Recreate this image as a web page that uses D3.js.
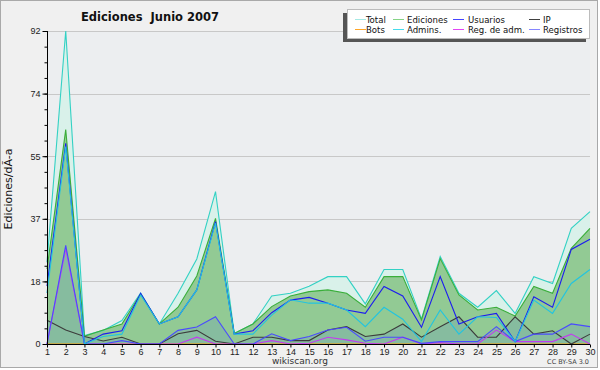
<!DOCTYPE html>
<html>
<head>
<meta charset="utf-8">
<script src="https://cdn.jsdelivr.net/npm/d3@7"></script>
<style>
  body { margin: 0; background: #ffffff; }
  svg { display: block; font-family: "DejaVu Sans", sans-serif; }
  .cond { font-family: "DejaVu Sans Condensed", "DejaVu Sans", sans-serif; font-stretch: condensed; }
</style>
</head>
<body>
<svg id="chart" width="600" height="370"></svg>
<script>
const days = [1, 2, 3, 4, 5, 6, 7, 8, 9, 10, 11, 12, 13, 14, 15, 16, 17, 18, 19, 20, 21, 22, 23, 24, 25, 26, 27, 28, 29, 30];

const total     = [24, 92, 2.5, 4, 6.9, 15, 5.9, 14.9, 25, 44.8, 3.1, 5.9, 14.1, 14.9, 17, 19.8, 19.8, 11.8, 21.9, 21.9, 7.4, 25.7, 14.9, 10.8, 15.7, 9, 19.8, 17.8, 34, 38.9];
const ediciones = [22, 63, 2.3, 4.1, 5.9, 14.7, 5.9, 10.8, 20, 36.9, 3.1, 5.9, 11, 14.1, 15.4, 15.9, 14.9, 10.8, 19.8, 19.8, 7.1, 25.1, 14.4, 10, 10.8, 8.2, 16.9, 14.9, 28.1, 34];
const usuarios  = [17, 59, 0, 2.9, 3.9, 14.9, 5.9, 8, 15.9, 36, 2.9, 3.9, 9.2, 12.9, 13.7, 12, 10, 9, 16.9, 14.1, 4.9, 19.8, 5.9, 8, 9, 0.7, 13.9, 10.8, 27.8, 30.8];
const ip        = [7, 4.1, 2.2, 0.9, 2, 0, 0, 3, 4, 0.8, 0, 2, 2, 1, 1, 4.1, 5.1, 2.2, 2.9, 5.9, 2, 5.1, 8, 2, 2, 8, 2.9, 3.9, 0, 2.9];
const bots      = [0, 0, 0, 0, 0, 0, 0, 0, 0, 0, 0, 0, 0, 0, 0, 0, 0, 0, 0, 0, 0, 0, 0, 0, 0, 0, 0, 0, 0, 0];
const admins    = [15, 58, 0, 2.2, 2.9, 14.4, 5.9, 8, 15.9, 35.5, 2.9, 2.9, 8.5, 13, 12, 12, 10, 5.1, 10.8, 7.3, 0.7, 10, 2.9, 8, 7.8, 0.7, 12.9, 9, 17.8, 21.9];
const regAdm    = [0, 28, 0, 0, 0, 0, 0, 0, 2, 0, 0, 0, 1, 0, 0.2, 2, 1.2, 0.2, 0, 2, 0, 0.4, 0, 0, 4.1, 0.7, 0.7, 0.7, 2.9, 0];
const registros = [0, 29, 0, 0, 1, 0, 0, 4, 5, 8, 0, 0, 3, 1, 2.2, 4.1, 4.9, 0.8, 2, 2, 0.2, 0.7, 0.7, 0.7, 5.1, 0.7, 2.9, 2.9, 5.9, 5.1];

const yTicks = [0, 18.4, 36.8, 55.2, 73.6, 92];
const yTickLabels = ['0', '18', '37', '55', '74', '92'];

const legendItems = [
  { name: 'Total', color: '#a6e9e4' },
  { name: 'Ediciones', color: '#86d486' },
  { name: 'Usuarios', color: '#4646ff' },
  { name: 'IP', color: '#404040' },
  { name: 'Bots', color: '#ffa628' },
  { name: 'Admins.', color: '#46dcec' },
  { name: 'Reg. de adm.', color: '#e246f4' },
  { name: 'Registros', color: '#8686ff' }
];

const svg = d3.select('#chart');

const plot = { left: 47, right: 590, top: 31, bottom: 344 };

const x = d3.scaleLinear().domain([1, 30]).range([plot.left, plot.right]);
const y = d3.scaleLinear().domain([0, 92]).range([plot.bottom, plot.top]);

// background + frame
svg.append('rect')
  .attr('x', 0.5).attr('y', 0.5)
  .attr('width', 597).attr('height', 367)
  .attr('fill', '#f0f0f0')
  .attr('stroke', '#a9a9a9');

svg.append('rect')
  .attr('x', plot.left).attr('y', plot.top)
  .attr('width', plot.right - plot.left).attr('height', plot.bottom - plot.top)
  .attr('fill', '#eceef0');

// grid
svg.append('g')
  .selectAll('line')
  .data(yTicks.slice(1))
  .enter()
  .append('line')
  .attr('x1', plot.left).attr('x2', plot.right)
  .attr('y1', (d) => Math.round(y(d)) + 0.5)
  .attr('y2', (d) => Math.round(y(d)) + 0.5)
  .attr('stroke', '#c8c8c8');

const area = (vals) => d3.area()
  .x((d, i) => x(days[i]))
  .y0(y(0))
  .y1((d) => y(d))(vals);

const line = (vals) => d3.line()
  .x((d, i) => x(days[i]))
  .y((d) => y(d))(vals);

svg.append('path').attr('d', area(total)).attr('fill', '#d9f1ea');
svg.append('path').attr('d', area(ediciones)).attr('fill', '#92ca94');
svg.append('path').attr('d', area(ip)).attr('fill', '#86bc9f');
svg.append('path').attr('d', area(registros)).attr('fill', '#86bc9f');

const series = [
  { vals: bots, color: '#ff9900' },
  { vals: total, color: '#33d1c4' },
  { vals: ediciones, color: '#3aae3a' },
  { vals: ip, color: '#3c3c3c' },
  { vals: regAdm, color: '#c23cf0' },
  { vals: registros, color: '#4a4aff' },
  { vals: usuarios, color: '#1c1cf0' },
  { vals: admins, color: '#22c4e0' }
];

svg.append('g')
  .selectAll('path')
  .data(series)
  .enter()
  .append('path')
  .attr('d', (d) => line(d.vals))
  .attr('fill', 'none')
  .attr('stroke', (d) => d.color)
  .attr('stroke-width', 1.1)
  .attr('stroke-linejoin', 'miter');

// y axis
const yAxis = d3.axisLeft(y)
  .tickValues(yTicks)
  .tickFormat((d, i) => yTickLabels[i])
  .tickSize(5)
  .tickPadding(2);
const yMinor = d3.axisLeft(y)
  .tickValues(d3.range(0, 92.01, 4.6))
  .tickFormat('')
  .tickSize(3);

svg.append('g')
  .attr('transform', `translate(${plot.left + 0.5},0)`)
  .call(yMinor)
  .call((g) => g.select('.domain').remove());

const yAxisG = svg.append('g')
  .attr('transform', `translate(${plot.left + 0.5},0)`)
  .call(yAxis);
yAxisG.select('.domain').attr('d', `M0,${plot.top}V${plot.bottom}`);
yAxisG.selectAll('text').style('font-size', '9px').attr('fill', '#222');

// x axis
const xAxis = d3.axisBottom(x)
  .tickValues(days)
  .tickFormat(d3.format('d'))
  .tickSize(3)
  .tickPadding(1);
const xAxisG = svg.append('g')
  .attr('transform', `translate(0,${plot.bottom + 0.5})`)
  .call(xAxis);
xAxisG.select('.domain').attr('d', `M${plot.left},0H${plot.right}`);
xAxisG.selectAll('text').style('font-size', '9px').attr('fill', '#222');

// title
svg.append('text')
  .attr('x', 150).attr('y', 21)
  .attr('text-anchor', 'middle')
  .style('font-size', '11.5px')
  .style('font-weight', 'bold')
  .style('white-space', 'pre')
  .attr('fill', '#111')
  .text('Ediciones  Junio 2007');

// y label
svg.append('text')
  .attr('transform', 'translate(12,189) rotate(-90)')
  .attr('text-anchor', 'middle')
  .style('font-size', '11px')
  .attr('fill', '#111')
  .text('Ediciones/dÃ-a');

// footer
svg.append('text')
  .attr('x', 300).attr('y', 364)
  .attr('text-anchor', 'middle')
  .style('font-size', '9px')
  .attr('fill', '#333')
  .text('wikiscan.org');

svg.append('text')
  .attr('x', 589).attr('y', 364)
  .attr('text-anchor', 'end')
  .style('font-size', '6.5px')
  .attr('fill', '#444')
  .text('CC BY-SA 3.0');

// legend
const lg = svg.append('g');
lg.append('rect')
  .attr('x', 343).attr('y', 13)
  .attr('width', 243).attr('height', 29)
  .attr('fill', '#555');
lg.append('rect')
  .attr('x', 347.5).attr('y', 9.5)
  .attr('width', 242).attr('height', 29)
  .attr('fill', '#fff')
  .attr('stroke', '#bcbcbc');

const colX = [355, 393, 453, 529];
const textX = [366, 407, 468, 543];
const rowY = [19, 29];

const items = lg.selectAll('g.item')
  .data(legendItems)
  .enter()
  .append('g')
  .attr('class', 'item');

items.append('line')
  .attr('x1', (d, i) => colX[i % 4])
  .attr('x2', (d, i) => colX[i % 4] + 11)
  .attr('y1', (d, i) => rowY[Math.floor(i / 4)] + 0.5)
  .attr('y2', (d, i) => rowY[Math.floor(i / 4)] + 0.5)
  .attr('stroke', (d) => d.color);

items.append('text')
  .attr('class', 'cond')
  .attr('x', (d, i) => textX[i % 4])
  .attr('y', (d, i) => rowY[Math.floor(i / 4)] + 3.5)
  .style('font-size', '9.5px')
  .attr('fill', '#111')
  .text((d) => d.name);
</script>
</body>
</html>
